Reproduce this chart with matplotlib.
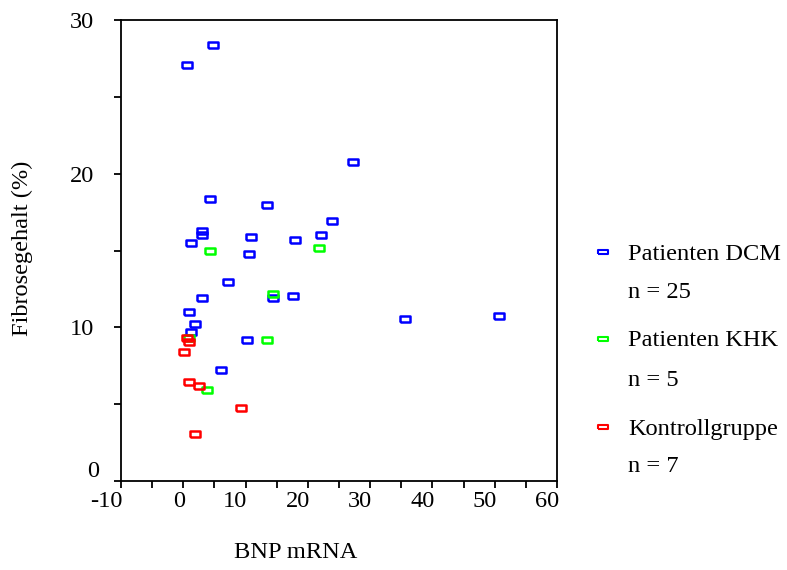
import matplotlib
matplotlib.use("Agg")
import matplotlib.pyplot as plt
import matplotlib.transforms as mtransforms
from matplotlib.lines import Line2D
import numpy as np

plt.rcParams['font.family'] = ['Liberation Serif', 'DejaVu Serif']

# ---- data ----
dcm_x = [4.77, 0.59, 27.29, 4.29, 13.39, 23.92, 3.0, 3.0, 1.19, 10.87, 10.55, 17.93,
         22.1, 7.17, 14.35, 17.61, 3.0, 0.87, 1.88, 1.19, 10.22, 6.05, 35.59, 50.67]
dcm_y = [28.35, 27.05, 20.79, 18.36, 17.94, 16.89, 16.24, 15.98, 15.46, 15.85, 14.79, 15.70,
         15.98, 12.96, 11.92, 12.05, 11.92, 11.0, 10.22, 9.70, 9.18, 7.22, 10.55, 10.74]
khk_x = [4.29, 21.78, 14.35, 0.87, 13.39, 3.76]
khk_y = [14.94, 15.18, 12.18, 9.31, 9.18, 5.92]
ktr_x = [0.55, 0.87, 0.11, 0.87, 2.47, 9.26, 1.88]
ktr_y = [9.33, 9.05, 8.39, 6.44, 6.18, 4.74, 3.05]

groups = ["Patienten DCM", "Patienten KHK", "Kontrollgruppe"]
counts = ["n = 25", "n = 5", "n = 7"]
colors = ["#0000FF", "#00FF00", "#FF0000"]

x_ticks = [-10, 0, 10, 20, 30, 40, 50, 60]
y_ticks = [0, 10, 20, 30]
x_label = "BNP mRNA"
y_label = "Fibrosegehalt (%)"

FS = 17.6

# ---- figure ----
W, H = 787, 570
fig = plt.figure(figsize=(W / 100, H / 100), dpi=100)
L, R, T, B = 121, 557, 20, 481
ax = fig.add_axes([L / W, (H - B) / H, (R - L) / W, (B - T) / H])

rect = [(-0.9, -0.52), (0.9, -0.52), (0.9, 0.52), (-0.9, 0.52), (-0.9, -0.52)]
series = [(dcm_x, dcm_y), (khk_x, khk_y), (ktr_x, ktr_y)]
for (xs, ys), c in zip(series, colors):
    ax.plot(xs, ys, linestyle='none', marker=rect, markersize=6.6,
            markerfacecolor='none', markeredgecolor=c, markeredgewidth=1.8)

ax.set_xlim(-10, 60)
ax.set_ylim(0, 30)
ax.set_xticks(x_ticks)
ax.set_xticks(np.arange(-5, 60, 10), minor=True)
ax.set_yticks(y_ticks)
ax.set_yticks(np.arange(5, 30, 10), minor=True)
ax.set_xticklabels([str(v) for v in x_ticks])
ax.set_yticklabels([str(v) for v in y_ticks])

for s in ax.spines.values():
    s.set_linewidth(1.3)
    s.set_color('black')
ax.tick_params(which='both', direction='out', length=5.2, width=1.3, colors='black',
               top=False, right=False)
ax.tick_params(axis='x', which='major', pad=2, labelsize=FS)
ax.tick_params(axis='y', which='major', pad=14, labelsize=FS)

for lab in ax.get_xticklabels():
    lab.set_horizontalalignment('right')
    lab.set_transform(lab.get_transform() +
                      mtransforms.ScaledTranslation(2 / 100, 0, fig.dpi_scale_trans))
ylabs = ax.get_yticklabels()
ylabs[0].set_transform(ylabs[0].get_transform() +
                       mtransforms.ScaledTranslation(5 / 100, 12 / 100, fig.dpi_scale_trans))

fig.text(22 / W, 1 - 248 / H, y_label, rotation=90, ha='center', va='center', fontsize=FS)
fig.text(296 / W, 1 - 553 / H, x_label, ha='center', va='center', fontsize=FS)

# ---- legend ----
leg_marker_y = [252, 339, 427]
leg_count_y = [293, 381, 467]
leg_rect = [(-0.95, -0.38), (0.95, -0.38), (0.95, 0.38), (-0.95, 0.38), (-0.95, -0.38)]
for g, n, c, my, ny in zip(groups, counts, colors, leg_marker_y, leg_count_y):
    fig.add_artist(Line2D([603 / W], [1 - my / H], transform=fig.transFigure,
                          linestyle='none', marker=leg_rect, markersize=7,
                          markerfacecolor='none', markeredgecolor=c, markeredgewidth=1.5))
    fig.text(628 / W, 1 - (my + 2) / H, g, ha='left', va='center', fontsize=FS)
    fig.text(628 / W, 1 - ny / H, n, ha='left', va='center', fontsize=FS)

fig.savefig("out.png", dpi=100)
